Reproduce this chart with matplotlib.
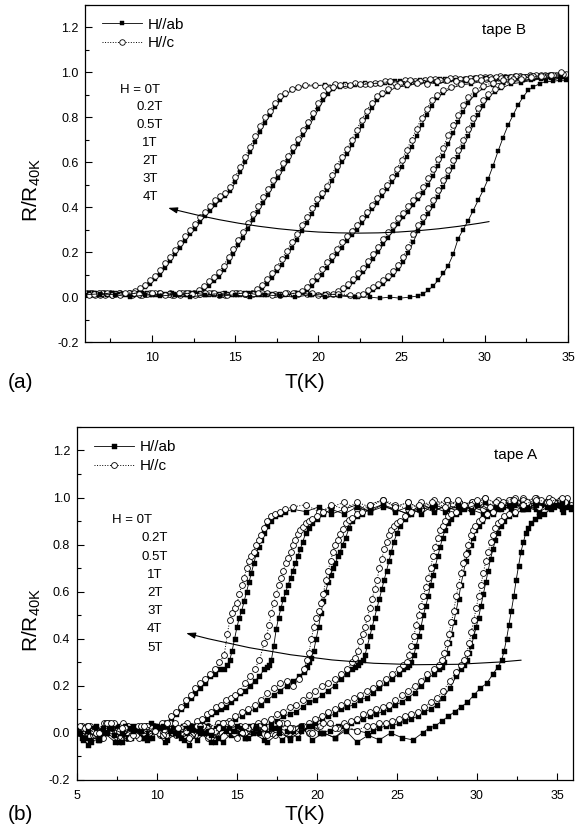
import matplotlib
matplotlib.use('Agg')
import matplotlib.pyplot as plt
from matplotlib.ticker import MultipleLocator

plt.rcParams['font.family'] = ['Liberation Sans', 'DejaVu Sans']
plt.rcParams['mathtext.default'] = 'regular'
plt.rcParams['axes.unicode_minus'] = False

# ---------------------------------------------------------------------
# tape B : R/R40K vs T, H//ab (ab) and H//c (c), one T grid per field
# ---------------------------------------------------------------------
tB_4T = [6.1, 6.6, 7.1, 7.6, 8.1, 8.6,
         9.0, 9.3, 9.6, 9.9, 10.2, 10.5, 10.8, 11.1, 11.4, 11.7, 12.0, 12.3, 12.6, 12.9,
         13.2, 13.5, 13.8, 14.1, 14.4, 14.7, 15.0, 15.3, 15.6, 15.9, 16.2, 16.5, 16.8, 17.1,
         17.4, 17.7, 18.0, 18.4, 18.8, 19.2,
         19.8, 20.4, 21.0, 21.6, 22.2, 22.8, 23.4, 24.0, 24.6, 25.2, 25.8, 26.4, 27.0, 27.6,
         28.2, 28.8, 29.4, 30.0, 30.6, 31.2, 31.8, 32.4, 33.0, 33.6, 34.2, 34.8]
rB_4T_ab = [0.01, 0.02, 0.01, 0.02, 0.01, 0.015,
            0.02, 0.03, 0.045, 0.06, 0.08, 0.10, 0.13, 0.16, 0.19, 0.22, 0.25, 0.28, 0.305, 0.335,
            0.36, 0.385, 0.41, 0.43, 0.45, 0.47, 0.51, 0.555, 0.60, 0.645, 0.69, 0.735, 0.775, 0.81,
            0.845, 0.875, 0.90, 0.92, 0.93, 0.94,
            0.94, 0.945, 0.94, 0.95, 0.945, 0.955, 0.95, 0.955, 0.96, 0.955, 0.96, 0.965, 0.96, 0.97,
            0.965, 0.97, 0.975, 0.97, 0.975, 0.98, 0.975, 0.98, 0.985, 0.98, 0.985, 0.985]
rB_4T_c = [0.02, 0.01, 0.02, 0.01, 0.02, 0.02,
           0.025, 0.04, 0.055, 0.075, 0.095, 0.12, 0.15, 0.18, 0.21, 0.24, 0.27, 0.30, 0.325, 0.355,
           0.38, 0.405, 0.43, 0.45, 0.465, 0.49, 0.535, 0.58, 0.625, 0.67, 0.715, 0.76, 0.80, 0.83,
           0.865, 0.895, 0.91, 0.925, 0.935, 0.945,
           0.945, 0.94, 0.95, 0.945, 0.955, 0.95, 0.955, 0.96, 0.955, 0.965, 0.96, 0.965, 0.97, 0.965,
           0.975, 0.97, 0.975, 0.98, 0.975, 0.98, 0.985, 0.98, 0.985, 0.99, 0.985, 0.99]

tB_3T = [6.3, 6.9, 7.5, 8.1, 8.7, 9.3, 9.9, 10.5, 11.1, 11.7, 12.2,
         12.5, 12.8, 13.1, 13.4, 13.7, 14.0, 14.3, 14.6, 14.9, 15.2, 15.5, 15.8, 16.1, 16.4,
         16.7, 17.0, 17.3, 17.6, 17.9, 18.2, 18.5, 18.8, 19.1, 19.4, 19.7, 20.0, 20.3, 20.6,
         20.9, 21.3,
         21.9, 22.5, 23.1, 23.7, 24.3, 24.9, 25.5, 26.1, 26.7, 27.3, 27.9, 28.5, 29.1, 29.7,
         30.3, 30.9, 31.5, 32.1, 32.7, 33.3, 33.9, 34.5]
rB_3T_ab = [0.01, 0.02, 0.01, 0.02, 0.01, 0.02, 0.01, 0.02, 0.01, 0.02, 0.01,
            0.015, 0.02, 0.035, 0.05, 0.07, 0.09, 0.12, 0.155, 0.19, 0.23, 0.265, 0.305, 0.345, 0.38,
            0.42, 0.455, 0.495, 0.53, 0.57, 0.605, 0.645, 0.68, 0.72, 0.755, 0.795, 0.835, 0.875, 0.905,
            0.925, 0.935,
            0.94, 0.945, 0.95, 0.95, 0.955, 0.96, 0.955, 0.965, 0.96, 0.97, 0.965, 0.97, 0.975, 0.975,
            0.98, 0.975, 0.98, 0.985, 0.98, 0.985, 0.99, 0.985]
rB_3T_c = [0.02, 0.01, 0.02, 0.015, 0.02, 0.01, 0.02, 0.015, 0.02, 0.01, 0.02,
           0.02, 0.03, 0.05, 0.07, 0.09, 0.11, 0.14, 0.18, 0.215, 0.255, 0.29, 0.33, 0.37, 0.405,
           0.445, 0.48, 0.52, 0.555, 0.595, 0.63, 0.67, 0.705, 0.745, 0.78, 0.82, 0.865, 0.90, 0.925,
           0.935, 0.945,
           0.945, 0.95, 0.95, 0.955, 0.96, 0.955, 0.965, 0.96, 0.97, 0.965, 0.975, 0.97, 0.975, 0.98,
           0.98, 0.985, 0.98, 0.985, 0.99, 0.985, 0.99, 0.995]

tB_2T = [6.4, 7.2, 8.0, 8.8, 9.6, 10.4, 11.2, 12.0, 12.8, 13.6, 14.4, 15.1, 15.6,
         16.0, 16.3, 16.6, 16.9, 17.2, 17.5, 17.8, 18.1, 18.4, 18.7, 19.0, 19.3, 19.6, 19.9,
         20.2, 20.5, 20.8, 21.1, 21.4, 21.7, 22.0, 22.3, 22.6, 22.9, 23.2, 23.5, 23.8, 24.2, 24.7,
         25.3, 25.9, 26.5, 27.1, 27.7, 28.3, 28.9, 29.5, 30.1, 30.7, 31.3, 31.9, 32.5, 33.1,
         33.7, 34.3, 34.9]
rB_2T_ab = [0.01, 0.02, 0.01, 0.015, 0.01, 0.01, 0.02, 0.01, 0.01, 0.015, 0.02, 0.01, 0.01,
            0.015, 0.02, 0.04, 0.06, 0.085, 0.115, 0.145, 0.18, 0.22, 0.255, 0.295, 0.33, 0.37, 0.41,
            0.445, 0.475, 0.515, 0.56, 0.60, 0.635, 0.675, 0.715, 0.76, 0.80, 0.84, 0.875, 0.90, 0.915, 0.935,
            0.94, 0.95, 0.955, 0.95, 0.96, 0.965, 0.96, 0.97, 0.975, 0.97, 0.98, 0.975, 0.98, 0.985,
            0.98, 0.985, 0.99]
rB_2T_c = [0.02, 0.01, 0.02, 0.01, 0.015, 0.02, 0.01, 0.02, 0.015, 0.02, 0.01, 0.02, 0.015,
           0.02, 0.035, 0.055, 0.08, 0.105, 0.135, 0.17, 0.205, 0.245, 0.28, 0.32, 0.355, 0.395, 0.435,
           0.465, 0.495, 0.545, 0.585, 0.625, 0.66, 0.70, 0.745, 0.79, 0.83, 0.865, 0.895, 0.91, 0.925, 0.94,
           0.95, 0.955, 0.95, 0.96, 0.965, 0.96, 0.97, 0.975, 0.97, 0.98, 0.975, 0.985, 0.98, 0.99,
           0.985, 0.99, 0.995]

tB_1T = [6.2, 7.0, 7.8, 8.6, 9.4, 10.2, 11.0, 11.8, 12.6, 13.4, 14.2, 15.0, 15.8, 16.6, 17.4,
         18.1, 18.6,
         19.0, 19.3, 19.6, 19.9, 20.2, 20.5, 20.8, 21.1, 21.4, 21.7, 22.0, 22.3, 22.6, 22.9,
         23.2, 23.5, 23.8, 24.1, 24.4, 24.7, 25.0, 25.3, 25.6, 25.9, 26.2, 26.5, 26.8, 27.1,
         27.5, 28.0,
         28.6, 29.2, 29.8, 30.4, 31.0, 31.6, 32.2, 32.8, 33.4, 34.0, 34.6]
rB_1T_ab = [0.02, 0.01, 0.02, 0.01, 0.02, 0.01, 0.01, 0.015, 0.02, 0.01, 0.01, 0.015, 0.02, 0.01, 0.01,
            0.015, 0.015,
            0.02, 0.03, 0.05, 0.075, 0.10, 0.13, 0.16, 0.19, 0.22, 0.25, 0.275, 0.30, 0.33, 0.36,
            0.39, 0.42, 0.45, 0.48, 0.51, 0.545, 0.58, 0.625, 0.67, 0.715, 0.765, 0.81, 0.85, 0.885,
            0.91, 0.93,
            0.945, 0.95, 0.96, 0.965, 0.97, 0.97, 0.975, 0.98, 0.98, 0.985, 0.985]
rB_1T_c = [0.01, 0.02, 0.015, 0.02, 0.01, 0.02, 0.015, 0.02, 0.01, 0.02, 0.015, 0.02, 0.01, 0.02, 0.015,
           0.02, 0.02,
           0.025, 0.045, 0.07, 0.095, 0.125, 0.155, 0.185, 0.215, 0.245, 0.27, 0.295, 0.32, 0.35, 0.38,
           0.41, 0.44, 0.47, 0.50, 0.535, 0.57, 0.61, 0.655, 0.70, 0.75, 0.795, 0.835, 0.875, 0.90,
           0.92, 0.935,
           0.95, 0.96, 0.965, 0.97, 0.975, 0.98, 0.98, 0.985, 0.99, 0.99, 0.995]

tB_05T = [6.5, 7.3, 8.1, 8.9, 9.7, 10.5, 11.3, 12.1, 12.9, 13.7, 14.5, 15.3, 16.1, 16.9, 17.7,
          18.5, 19.3, 20.0, 20.5,
          20.9, 21.2, 21.5, 21.8, 22.1, 22.4, 22.7, 23.0, 23.3, 23.6, 23.9, 24.2, 24.5, 24.8,
          25.1, 25.4, 25.7, 26.0, 26.3, 26.6, 26.9, 27.2, 27.5, 27.8, 28.1, 28.4, 28.7, 29.0,
          29.4, 29.9,
          30.5, 31.1, 31.7, 32.3, 32.9, 33.5, 34.1, 34.7]
rB_05T_ab = [0.02, 0.01, 0.015, 0.01, 0.02, 0.01, 0.015, 0.01, 0.02, 0.01, 0.015, 0.01, 0.02, 0.01, 0.015,
             0.01, 0.02, 0.01, 0.01,
             0.01, 0.02, 0.03, 0.045, 0.065, 0.085, 0.11, 0.14, 0.17, 0.20, 0.235, 0.265, 0.295, 0.325,
             0.355, 0.38, 0.41, 0.435, 0.465, 0.50, 0.54, 0.585, 0.63, 0.68, 0.73, 0.78, 0.825, 0.865,
             0.90, 0.93,
             0.945, 0.955, 0.96, 0.965, 0.97, 0.975, 0.98, 0.98]
rB_05T_c = [0.015, 0.02, 0.01, 0.02, 0.015, 0.02, 0.01, 0.02, 0.015, 0.02, 0.01, 0.02, 0.015, 0.02, 0.01,
            0.02, 0.015, 0.01, 0.015,
            0.015, 0.025, 0.04, 0.06, 0.08, 0.105, 0.13, 0.16, 0.19, 0.225, 0.26, 0.29, 0.32, 0.35,
            0.375, 0.405, 0.43, 0.455, 0.49, 0.53, 0.57, 0.615, 0.665, 0.72, 0.765, 0.81, 0.855, 0.89,
            0.92, 0.94,
            0.955, 0.965, 0.97, 0.98, 0.985, 0.985, 0.99, 0.995]

tB_02T = [6.8, 7.6, 8.4, 9.2, 10.0, 10.8, 11.6, 12.4, 13.2, 14.0, 14.8, 15.6, 16.4, 17.2, 18.0,
          18.8, 19.6, 20.4, 21.2, 21.9, 22.4,
          22.7, 23.0, 23.3, 23.6, 23.9, 24.2, 24.5, 24.8, 25.1, 25.4, 25.7, 26.0, 26.3, 26.6,
          26.9, 27.2, 27.5, 27.8, 28.1, 28.4, 28.7, 29.0, 29.3, 29.6, 29.9, 30.2, 30.6, 31.0,
          31.6, 32.2, 32.8, 33.4, 34.0, 34.6]
rB_02T_ab = [0.01, 0.02, 0.01, 0.02, 0.01, 0.015, 0.01, 0.02, 0.01, 0.015, 0.01, 0.02, 0.01, 0.015, 0.01,
             0.02, 0.01, 0.015, 0.01, 0.005, 0.0,
             0.01, 0.02, 0.03, 0.045, 0.06, 0.08, 0.10, 0.125, 0.155, 0.195, 0.245, 0.295, 0.33, 0.37,
             0.405, 0.445, 0.49, 0.535, 0.58, 0.625, 0.67, 0.715, 0.765, 0.81, 0.85, 0.885, 0.915, 0.93,
             0.95, 0.955, 0.965, 0.97, 0.975, 0.98]
rB_02T_c = [0.02, 0.01, 0.02, 0.015, 0.02, 0.01, 0.02, 0.015, 0.02, 0.01, 0.02, 0.015, 0.02, 0.01, 0.02,
            0.015, 0.02, 0.01, 0.015, 0.01, 0.01,
            0.015, 0.03, 0.045, 0.06, 0.075, 0.095, 0.115, 0.145, 0.18, 0.225, 0.28, 0.32, 0.355, 0.395,
            0.43, 0.475, 0.52, 0.565, 0.61, 0.655, 0.70, 0.75, 0.795, 0.84, 0.875, 0.905, 0.925, 0.94,
            0.96, 0.97, 0.98, 0.985, 0.99, 1.0]

# zero field, measured once
tB_0T = [6.0, 6.9, 7.8, 8.7, 9.6, 10.5, 11.4, 12.3, 13.2, 14.1, 15.0, 15.9, 16.8, 17.7, 18.6,
         19.5, 20.4, 21.3, 22.2, 23.1, 23.7, 24.3, 24.9, 25.5, 26.0,
         26.3, 26.6, 26.9, 27.2, 27.5, 27.8, 28.1, 28.4, 28.7, 29.0, 29.3, 29.6, 29.9, 30.2,
         30.5, 30.8, 31.1, 31.4, 31.7, 32.0, 32.3, 32.6, 32.9, 33.3, 33.7, 34.1, 34.5, 34.9]
rB_0T = [0.01, 0.015, 0.01, 0.0, 0.01, 0.005, 0.01, 0.0, 0.01, 0.005, 0.01, 0.0, 0.01, 0.005, 0.0,
         0.01, 0.0, 0.005, 0.0, 0.0, -0.005, 0.0, -0.005, 0.0, 0.005,
         0.015, 0.03, 0.05, 0.075, 0.105, 0.14, 0.19, 0.26, 0.30, 0.34, 0.385, 0.43, 0.475, 0.525,
         0.585, 0.65, 0.71, 0.765, 0.81, 0.855, 0.89, 0.92, 0.935, 0.95, 0.96, 0.96, 0.965, 0.965]

# ---------------------------------------------------------------------
# tape A
# ---------------------------------------------------------------------
tA_5T = [5.1, 5.8, 6.5, 7.2, 7.9, 8.6, 9.3, 10.0, 10.5,
         10.9, 11.2, 11.5, 11.8, 12.1, 12.4, 12.7, 13.0, 13.3, 13.6, 13.9, 14.2, 14.4,
         14.55, 14.7, 14.85, 15.0, 15.15, 15.3, 15.45, 15.6, 15.75, 15.9, 16.05, 16.2, 16.35,
         16.5, 16.7, 16.9, 17.1, 17.4, 17.7, 18.0,
         18.5, 19.3, 20.1, 20.9, 21.7, 22.5, 23.3, 24.1, 24.9, 25.7, 26.5, 27.3, 28.1, 28.9,
         29.7, 30.5, 31.3, 32.1, 32.9, 33.7, 34.5, 35.3]
rA_5T_ab = [0.02, -0.03, 0.01, 0.03, -0.01, 0.02, 0.0, 0.03, 0.02,
            0.05, 0.08, 0.10, 0.12, 0.15, 0.17, 0.19, 0.21, 0.24, 0.25, 0.27, 0.27, 0.29,
            0.31, 0.35, 0.40, 0.45, 0.49, 0.52, 0.56, 0.60, 0.64, 0.68, 0.72, 0.76, 0.79,
            0.82, 0.85, 0.88, 0.90, 0.92, 0.93, 0.94,
            0.95, 0.94, 0.96, 0.93, 0.95, 0.97, 0.94, 0.96, 0.95, 0.93, 0.97, 0.95, 0.96, 0.94,
            0.97, 0.95, 0.96, 0.98, 0.95, 0.97, 0.96, 0.98]
rA_5T_c = [0.0, 0.03, -0.02, 0.02, 0.04, 0.0, 0.03, 0.01, 0.04,
           0.07, 0.09, 0.11, 0.14, 0.16, 0.19, 0.21, 0.23, 0.25, 0.27, 0.30, 0.33, 0.42,
           0.48, 0.51, 0.53, 0.55, 0.59, 0.63, 0.66, 0.70, 0.73, 0.75, 0.77, 0.80, 0.82,
           0.84, 0.87, 0.90, 0.92, 0.93, 0.94, 0.95,
           0.96, 0.97, 0.94, 0.96, 0.98, 0.95, 0.97, 0.99, 0.96, 0.98, 0.95, 0.97, 0.99, 0.96,
           0.98, 1.0, 0.97, 0.99, 0.98, 1.0, 0.97, 0.99]

tA_4T = [5.3, 6.0, 6.7, 7.4, 8.1, 8.8, 9.5, 10.2, 10.9, 11.6, 12.1,
         12.5, 12.8, 13.1, 13.4, 13.7, 14.0, 14.3, 14.6, 14.9, 15.2, 15.5, 15.8, 16.1, 16.4, 16.7,
         16.85, 17.0, 17.15, 17.3, 17.45, 17.6, 17.75, 17.9, 18.05, 18.2, 18.35, 18.5, 18.65,
         18.8, 18.95, 19.1, 19.3, 19.5, 19.7, 20.0, 20.4,
         20.9, 21.7, 22.5, 23.3, 24.1, 24.9, 25.7, 26.5, 27.3, 28.1, 28.9, 29.7, 30.5, 31.3,
         32.1, 32.9, 33.7, 34.5, 35.3]
rA_4T_ab = [-0.02, 0.02, 0.0, -0.04, 0.03, 0.01, -0.02, 0.02, 0.0, 0.03, 0.01,
            0.03, 0.05, 0.06, 0.08, 0.09, 0.10, 0.11, 0.13, 0.15, 0.17, 0.18, 0.20, 0.22, 0.24, 0.27,
            0.28, 0.29, 0.31, 0.37, 0.44, 0.49, 0.53, 0.57, 0.60, 0.63, 0.66, 0.69, 0.72,
            0.75, 0.78, 0.81, 0.85, 0.87, 0.89, 0.91, 0.93,
            0.95, 0.93, 0.96, 0.94, 0.97, 0.95, 0.93, 0.96, 0.94, 0.97, 0.95, 0.96, 0.94, 0.97,
            0.95, 0.98, 0.96, 0.97, 0.95]
rA_4T_c = [0.03, -0.01, 0.04, 0.01, -0.02, 0.03, 0.02, -0.01, 0.04, 0.0, 0.03,
           0.05, 0.06, 0.08, 0.09, 0.11, 0.12, 0.14, 0.15, 0.16, 0.18, 0.21, 0.24, 0.27, 0.31, 0.38,
           0.41, 0.46, 0.51, 0.55, 0.59, 0.63, 0.66, 0.69, 0.72, 0.745, 0.77, 0.80, 0.82,
           0.845, 0.86, 0.875, 0.89, 0.90, 0.91, 0.92, 0.94,
           0.97, 0.95, 0.98, 0.96, 0.99, 0.97, 0.95, 0.98, 0.96, 0.99, 0.97, 0.98, 0.96, 0.99,
           0.97, 1.0, 0.98, 0.99, 0.97]

tA_3T = [5.6, 6.3, 7.0, 7.7, 8.4, 9.1, 9.8, 10.5, 11.2, 11.9, 12.6, 13.2, 13.7,
         14.1, 14.5, 14.9, 15.3, 15.7, 16.1, 16.5, 16.9, 17.3, 17.7, 18.1, 18.5, 18.9, 19.2,
         19.35, 19.5, 19.65, 19.8, 19.95, 20.1, 20.25, 20.4, 20.55, 20.7, 20.85, 21.0, 21.15,
         21.3, 21.45, 21.6, 21.8, 22.0, 22.2, 22.5, 22.8,
         23.3, 24.1, 24.9, 25.7, 26.5, 27.3, 28.1, 28.9, 29.7, 30.5, 31.3, 32.1, 32.9, 33.7,
         34.5, 35.3]
rA_3T_ab = [0.01, -0.03, 0.02, 0.0, -0.02, 0.03, 0.01, -0.04, 0.02, 0.0, 0.03, -0.01, 0.02,
            0.03, 0.04, 0.06, 0.07, 0.09, 0.10, 0.12, 0.14, 0.16, 0.18, 0.20, 0.22, 0.24, 0.26,
            0.28, 0.30, 0.32, 0.35, 0.40, 0.45, 0.51, 0.56, 0.60, 0.64, 0.67, 0.70, 0.72,
            0.75, 0.77, 0.80, 0.83, 0.87, 0.90, 0.92, 0.93,
            0.95, 0.97, 0.94, 0.96, 0.93, 0.97, 0.95, 0.96, 0.94, 0.98, 0.95, 0.96, 0.97, 0.95,
            0.98, 0.96]
rA_3T_c = [0.03, 0.0, 0.04, -0.02, 0.02, 0.0, 0.03, 0.01, -0.01, 0.04, 0.01, 0.03, 0.0,
           0.04, 0.05, 0.07, 0.09, 0.10, 0.12, 0.14, 0.17, 0.19, 0.21, 0.22, 0.20, 0.23, 0.27,
           0.31, 0.34, 0.40, 0.45, 0.49, 0.52, 0.55, 0.59, 0.65, 0.69, 0.73, 0.77, 0.80,
           0.82, 0.845, 0.865, 0.89, 0.905, 0.915, 0.93, 0.94,
           0.97, 0.99, 0.96, 0.98, 0.95, 0.99, 0.97, 0.98, 0.96, 1.0, 0.97, 0.98, 0.99, 0.97,
           1.0, 0.98]

tA_2T = [5.4, 6.1, 6.8, 7.5, 8.2, 8.9, 9.6, 10.3, 11.0, 11.7, 12.4, 13.1, 13.8, 14.5, 15.2,
         15.8, 16.3,
         16.7, 17.1, 17.5, 17.9, 18.3, 18.7, 19.1, 19.5, 19.9, 20.3, 20.7, 21.1, 21.5, 21.9, 22.2,
         22.4, 22.55, 22.7, 22.85, 23.0, 23.15, 23.3, 23.45, 23.6, 23.75, 23.9, 24.05, 24.2,
         24.35, 24.5, 24.65, 24.8, 25.0, 25.2, 25.5, 25.9,
         26.4, 27.2, 28.0, 28.8, 29.6, 30.4, 31.2, 32.0, 32.8, 33.6, 34.4, 35.2, 35.9]
rA_2T_ab = [-0.03, 0.02, 0.0, 0.03, -0.02, 0.01, 0.04, -0.01, 0.02, -0.03, 0.01, 0.03, -0.02, 0.02, 0.0,
            0.03, 0.01,
            0.03, 0.04, 0.05, 0.07, 0.08, 0.09, 0.11, 0.13, 0.14, 0.16, 0.18, 0.20, 0.23, 0.25, 0.27,
            0.28, 0.29, 0.30, 0.31, 0.33, 0.37, 0.41, 0.45, 0.49, 0.53, 0.57, 0.61, 0.65,
            0.69, 0.73, 0.77, 0.81, 0.85, 0.88, 0.91, 0.93,
            0.95, 0.96, 0.94, 0.97, 0.95, 0.93, 0.96, 0.97, 0.95, 0.98, 0.96, 0.97, 0.95]
rA_2T_c = [0.02, -0.01, 0.04, 0.01, 0.03, -0.02, 0.02, 0.04, 0.0, 0.03, -0.01, 0.02, 0.04, 0.0, 0.03,
           0.01, 0.04,
           0.05, 0.06, 0.08, 0.09, 0.11, 0.12, 0.14, 0.16, 0.18, 0.20, 0.21, 0.23, 0.25, 0.27, 0.30,
           0.32, 0.35, 0.39, 0.42, 0.45, 0.49, 0.53, 0.57, 0.61, 0.65, 0.70, 0.74, 0.78,
           0.81, 0.84, 0.86, 0.88, 0.89, 0.90, 0.92, 0.94,
           0.97, 0.98, 0.96, 0.99, 0.97, 0.95, 0.98, 0.99, 0.97, 1.0, 0.98, 0.99, 0.97]

tA_1T = [5.2, 5.9, 6.6, 7.3, 8.0, 8.7, 9.4, 10.1, 10.8, 11.5, 12.2, 12.9, 13.6, 14.3, 15.0,
         15.7, 16.4, 17.1, 17.8, 18.5, 19.1,
         19.5, 19.9, 20.3, 20.7, 21.1, 21.5, 21.9, 22.3, 22.7, 23.1, 23.5, 23.9, 24.3, 24.7,
         25.1, 25.4,
         25.6, 25.75, 25.9, 26.05, 26.2, 26.35, 26.5, 26.65, 26.8, 26.95, 27.1, 27.25, 27.4,
         27.55, 27.7, 27.85, 28.0, 28.2, 28.4, 28.7,
         29.2, 30.0, 30.8, 31.6, 32.4, 33.2, 34.0, 34.8, 35.6]
rA_1T_ab = [0.0, -0.04, 0.02, -0.01, 0.03, 0.0, -0.03, 0.02, 0.01, -0.02, 0.03, 0.0, -0.04, 0.01, 0.03,
            -0.02, 0.0, 0.02, -0.03, 0.01, 0.02,
            0.03, 0.04, 0.06, 0.07, 0.08, 0.10, 0.11, 0.12, 0.14, 0.15, 0.17, 0.19, 0.21, 0.23,
            0.25, 0.27,
            0.28, 0.29, 0.30, 0.33, 0.37, 0.41, 0.45, 0.50, 0.54, 0.58, 0.63, 0.67, 0.71,
            0.75, 0.79, 0.83, 0.86, 0.89, 0.91, 0.93,
            0.95, 0.97, 0.94, 0.96, 0.98, 0.95, 0.97, 0.96, 0.98]
rA_1T_c = [0.03, 0.01, -0.02, 0.04, 0.02, -0.01, 0.03, 0.0, 0.04, 0.02, -0.01, 0.03, 0.01, 0.04, -0.02,
           0.02, 0.03, 0.0, 0.04, 0.02, 0.03,
           0.04, 0.06, 0.07, 0.09, 0.10, 0.12, 0.13, 0.15, 0.16, 0.18, 0.19, 0.21, 0.23, 0.25,
           0.27, 0.29,
           0.30, 0.33, 0.37, 0.41, 0.46, 0.50, 0.54, 0.58, 0.62, 0.66, 0.70, 0.75, 0.79,
           0.83, 0.86, 0.88, 0.90, 0.92, 0.93, 0.94,
           0.97, 0.99, 0.96, 0.98, 1.0, 0.97, 0.99, 0.98, 1.0]

tA_05T = [5.5, 6.2, 6.9, 7.6, 8.3, 9.0, 9.7, 10.4, 11.1, 11.8, 12.5, 13.2, 13.9, 14.6, 15.3,
          16.0, 16.7, 17.4, 18.1, 18.8, 19.5, 20.2, 20.8, 21.3,
          21.7, 22.1, 22.5, 22.9, 23.3, 23.7, 24.1, 24.5, 24.9, 25.3, 25.7, 26.1, 26.5, 26.9,
          27.3, 27.6,
          27.8, 27.95, 28.1, 28.25, 28.4, 28.55, 28.7, 28.85, 29.0, 29.15, 29.3, 29.45, 29.6,
          29.75, 29.9, 30.1, 30.3, 30.6, 31.0,
          31.5, 32.3, 33.1, 33.9, 34.7, 35.5]
rA_05T_ab = [-0.02, 0.03, 0.0, -0.04, 0.02, 0.01, -0.02, 0.03, 0.0, 0.02, -0.03, 0.01, 0.03, -0.01, 0.02,
             0.0, -0.03, 0.02, 0.01, -0.02, 0.03, 0.0, 0.01, 0.03,
             0.03, 0.04, 0.05, 0.06, 0.07, 0.08, 0.09, 0.10, 0.12, 0.13, 0.15, 0.17, 0.20, 0.23,
             0.25, 0.27,
             0.28, 0.30, 0.34, 0.38, 0.42, 0.47, 0.52, 0.57, 0.63, 0.68, 0.73, 0.77, 0.80,
             0.83, 0.86, 0.88, 0.90, 0.92, 0.93,
             0.95, 0.97, 0.96, 0.94, 0.97, 0.96]
rA_05T_c = [0.02, 0.0, 0.04, 0.01, -0.02, 0.03, 0.02, -0.01, 0.04, 0.01, 0.03, -0.02, 0.02, 0.04, 0.0,
            0.03, 0.02, -0.01, 0.04, 0.02, 0.0, 0.03, 0.04, 0.02,
            0.04, 0.05, 0.06, 0.08, 0.09, 0.10, 0.11, 0.12, 0.14, 0.16, 0.18, 0.20, 0.22, 0.25,
            0.27, 0.29,
            0.31, 0.34, 0.38, 0.42, 0.47, 0.52, 0.58, 0.63, 0.68, 0.72, 0.76, 0.80, 0.84,
            0.86, 0.88, 0.90, 0.91, 0.93, 0.94,
            0.97, 0.99, 0.98, 0.96, 0.99, 0.98]

tA_02T = [5.7, 6.4, 7.1, 7.8, 8.5, 9.2, 9.9, 10.6, 11.3, 12.0, 12.7, 13.4, 14.1, 14.8, 15.5,
          16.2, 16.9, 17.6, 18.3, 19.0, 19.7, 20.4, 21.1, 21.8, 22.5, 23.1,
          23.5, 23.9, 24.3, 24.7, 25.1, 25.5, 25.9, 26.3, 26.7, 27.1, 27.5, 27.9, 28.3, 28.7, 29.0,
          29.2, 29.35, 29.5, 29.65, 29.8, 29.95, 30.1, 30.25, 30.4, 30.55, 30.7, 30.85, 31.0,
          31.15, 31.3, 31.5, 31.7, 32.0, 32.4,
          32.9, 33.7, 34.5, 35.3]
rA_02T_ab = [0.01, -0.03, 0.02, 0.0, 0.03, -0.02, 0.01, 0.03, -0.01, 0.02, 0.0, -0.04, 0.02, 0.01, -0.02,
             0.03, 0.0, 0.02, -0.03, 0.01, 0.03, 0.0, -0.02, 0.02, 0.01, 0.0,
             0.01, 0.02, 0.03, 0.03, 0.04, 0.05, 0.06, 0.07, 0.09, 0.10, 0.12, 0.15, 0.19, 0.24, 0.27,
             0.29, 0.31, 0.34, 0.37, 0.41, 0.45, 0.49, 0.54, 0.59, 0.64, 0.69, 0.74, 0.78,
             0.82, 0.85, 0.88, 0.90, 0.92, 0.93,
             0.95, 0.97, 0.96, 0.98]
rA_02T_c = [0.03, 0.0, 0.04, 0.02, -0.01, 0.03, 0.01, 0.04, 0.02, -0.02, 0.03, 0.01, 0.04, 0.0, 0.03,
            0.02, -0.01, 0.04, 0.02, 0.03, 0.0, 0.04, 0.02, 0.03, 0.01, 0.03,
            0.03, 0.04, 0.04, 0.05, 0.06, 0.07, 0.08, 0.09, 0.11, 0.13, 0.15, 0.18, 0.22, 0.26, 0.29,
            0.31, 0.34, 0.38, 0.43, 0.48, 0.53, 0.58, 0.63, 0.68, 0.73, 0.77, 0.81, 0.84,
            0.87, 0.89, 0.90, 0.92, 0.93, 0.94,
            0.97, 0.99, 0.98, 1.0]

tA_0T = [5.0, 5.7, 6.4, 7.1, 7.8, 8.5, 9.2, 9.9, 10.6, 11.3, 12.0, 12.7, 13.4, 14.1, 14.8,
         15.5, 16.2, 16.9, 17.6, 18.3, 19.0, 19.7, 20.4, 21.1, 21.8, 22.5, 23.2, 23.9, 24.6,
         25.3, 26.0, 26.6,
         27.0, 27.4, 27.8, 28.2, 28.6, 29.0, 29.4, 29.8, 30.2, 30.6, 31.0, 31.3, 31.55,
         31.7, 31.85, 32.0, 32.15, 32.3, 32.45, 32.6, 32.75, 32.9, 33.05, 33.2, 33.4, 33.6,
         33.9, 34.2,
         34.6, 35.0, 35.4, 35.8]
rA_0T = [0.0, -0.05, -0.02, 0.02, -0.04, 0.01, -0.02, 0.03, -0.03, 0.0, -0.05, 0.02, -0.01, -0.04, 0.01,
         -0.02, 0.02, -0.04, 0.0, -0.02, 0.03, -0.03, 0.0, -0.02, 0.01, -0.04, -0.01, -0.03, 0.0,
         -0.02, -0.03, 0.0,
         0.02, 0.03, 0.05, 0.07, 0.09, 0.11, 0.13, 0.16, 0.19, 0.21, 0.25, 0.28, 0.31,
         0.35, 0.40, 0.46, 0.52, 0.58, 0.65, 0.71, 0.77, 0.81, 0.85, 0.87, 0.89, 0.91,
         0.92, 0.93,
         0.95, 0.97, 0.94, 0.96]

field_labels_B = ['H = 0T', '0.2T', '0.5T', '1T', '2T', '3T', '4T']
field_labels_A = ['H = 0T', '0.2T', '0.5T', '1T', '2T', '3T', '4T', '5T']

curves_B = [(tB_4T, rB_4T_ab, rB_4T_c), (tB_3T, rB_3T_ab, rB_3T_c),
            (tB_2T, rB_2T_ab, rB_2T_c), (tB_1T, rB_1T_ab, rB_1T_c),
            (tB_05T, rB_05T_ab, rB_05T_c), (tB_02T, rB_02T_ab, rB_02T_c)]
curves_A = [(tA_5T, rA_5T_ab, rA_5T_c), (tA_4T, rA_4T_ab, rA_4T_c),
            (tA_3T, rA_3T_ab, rA_3T_c), (tA_2T, rA_2T_ab, rA_2T_c),
            (tA_1T, rA_1T_ab, rA_1T_c), (tA_05T, rA_05T_ab, rA_05T_c),
            (tA_02T, rA_02T_ab, rA_02T_c)]


def draw_panel(ax, curves, t0, r0, ms_sq, ms_ci):
    """Plot the H//ab / H//c pairs plus the zero-field curve."""
    sq = dict(ls='-', lw=0.6, color='black', marker='s', ms=ms_sq,
              mfc='black', mec='black', mew=0.3)
    ci = dict(ls=':', lw=0.7, color='black', marker='o', ms=ms_ci,
              mfc='white', mec='black', mew=0.6)
    for i, (t, r_ab, r_c) in enumerate(curves):
        ax.plot(t, r_ab, label='H//ab' if i == 0 else None, **sq)
        ax.plot(t, r_c, label='H//c' if i == 0 else None, **ci)
    ax.plot(t0, r0, **sq)

    ax.set_ylim(-0.2, 1.3)
    ax.yaxis.set_major_locator(MultipleLocator(0.2))
    ax.yaxis.set_minor_locator(MultipleLocator(0.1))
    ax.xaxis.set_major_locator(MultipleLocator(5))
    ax.xaxis.set_minor_locator(MultipleLocator(2.5))
    ax.tick_params(which='both', direction='in', top=False, right=False,
                   labelsize=9, width=0.8)
    ax.tick_params(which='major', length=5)
    ax.tick_params(which='minor', length=3)
    ax.tick_params(axis='x', pad=7)
    ax.tick_params(axis='y', pad=5)
    for s in ax.spines.values():
        s.set_linewidth(0.9)

    ax.legend(loc='upper left', frameon=False, fontsize=11, borderpad=0,
              borderaxespad=0, handlelength=2.6, handletextpad=0.35,
              labelspacing=0.3, bbox_to_anchor=(0.035, 0.962))


fig = plt.figure(figsize=(5.75, 8.35), dpi=100)

# (a) tape B
ax1 = fig.add_axes([0.1485, 0.5904, 0.8393, 0.4036])
draw_panel(ax1, curves_B, tB_0T, rB_0T, 3.4, 4.0)
ax1.set_xlim(6, 35)
ax1.text(0.867, 0.926, 'tape B', transform=ax1.transAxes, fontsize=11,
         ha='center', va='center')
rows_B = [0.748, 0.696, 0.644, 0.591, 0.537, 0.484, 0.430]
ax1.text(0.072, rows_B[0], field_labels_B[0], transform=ax1.transAxes,
         fontsize=9.5, ha='left', va='center')
for lab, y in zip(field_labels_B[1:], rows_B[1:]):
    ax1.text(0.134, y, lab, transform=ax1.transAxes, fontsize=9.5,
             ha='center', va='center')
ax1.annotate('', xy=(10.97, 0.397), xytext=(30.26, 0.336),
             arrowprops=dict(arrowstyle='-|>,head_length=0.55,head_width=0.18',
                             connectionstyle='arc3,rad=-0.11', color='black',
                             lw=0.8, shrinkA=0, shrinkB=0, mutation_scale=10))

# (b) tape A
ax2 = fig.add_axes([0.1339, 0.0659, 0.8626, 0.4228])
draw_panel(ax2, curves_A, tA_0T, rA_0T, 3.6, 4.2)
ax2.set_xlim(5, 36)
ax2.text(0.885, 0.921, 'tape A', transform=ax2.transAxes, fontsize=11,
         ha='center', va='center')
rows_A = [0.737, 0.686, 0.632, 0.581, 0.530, 0.479, 0.428, 0.374]
ax2.text(0.0706, rows_A[0], field_labels_A[0], transform=ax2.transAxes,
         fontsize=9.5, ha='left', va='center')
for lab, y in zip(field_labels_A[1:], rows_A[1:]):
    ax2.text(0.157, y, lab, transform=ax2.transAxes, fontsize=9.5,
             ha='center', va='center')
ax2.annotate('', xy=(11.82, 0.424), xytext=(32.76, 0.309),
             arrowprops=dict(arrowstyle='-|>,head_length=0.55,head_width=0.18',
                             connectionstyle='arc3,rad=-0.09', color='black',
                             lw=0.8, shrinkA=0, shrinkB=0, mutation_scale=10))

# axis titles and panel tags
for ylab_y, xlab_y, tag in [(0.773, 0.5415, '(a)'), (0.257, 0.025, '(b)')]:
    fig.text(0.055, ylab_y, r'R/R$_{40K}$', rotation=90, fontsize=15,
             ha='center', va='center')
    fig.text(0.530, xlab_y, 'T(K)', fontsize=15, ha='center', va='center')
    fig.text(0.036, xlab_y, tag, fontsize=15, ha='center', va='center')

fig.savefig('out.png', dpi=100)
